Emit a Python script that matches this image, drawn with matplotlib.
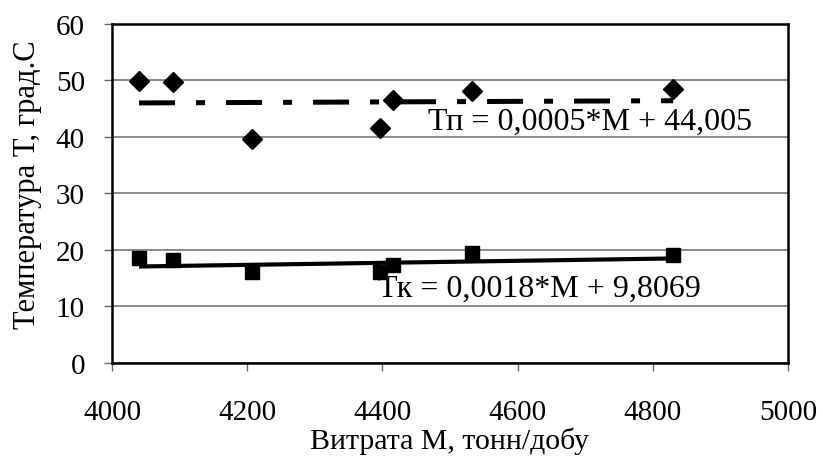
import numpy as np
import matplotlib.pyplot as plt

plt.rcParams["font.family"] = ["Liberation Serif", "DejaVu Serif"]

# Data
flow = [4040, 4090, 4207, 4397, 4415, 4532, 4830]       # M, тонн/добу
t_in = [49.9, 49.8, 39.6, 41.6, 46.6, 48.1, 48.5]       # Тп, diamonds
t_out = [18.6, 18.2, 16.1, 16.1, 17.3, 19.4, 19.2]      # Тк, squares

# trend line coefficients (as written on the chart)
k_in, b_in = 0.0005, 44.005
k_out, b_out = 0.0018, 9.8069

x_ticks = [4000, 4200, 4400, 4600, 4800, 5000]
y_ticks = [0, 10, 20, 30, 40, 50, 60]

fig = plt.figure(figsize=(8.23, 4.60), dpi=100)
ax = fig.add_axes((0.1361, 0.2087, 0.8214, 0.7370))

m = np.array([min(flow), max(flow)])

ax.plot(flow, t_in, linestyle="none", marker="D", markersize=10,
        color="black", zorder=3)
ax.plot(m, k_in * m + b_in, color="black", linewidth=3.6,
        dashes=(7.2, 4.2, 1.8, 4.2), dash_capstyle="butt", zorder=2)

ax.plot(flow, t_out, linestyle="none", marker="s", markersize=9.5,
        color="black", zorder=3)
ax.plot(m, k_out * m + b_out, color="black", linewidth=3.0,
        solid_capstyle="butt", zorder=2)

ax.text(4468, 42.8, "Тп = 0,0005*М + 44,005", fontsize=23,
        va="center", ha="left")
ax.text(4394, 13.2, "Тк = 0,0018*М + 9,8069", fontsize=23,
        va="center", ha="left")

ax.set_xlim(4000, 5000)
ax.set_ylim(0, 60)
ax.set_xticks(x_ticks)
ax.set_yticks(y_ticks)
ax.tick_params(labelsize=21, direction="out", length=6, width=1,
               color="#666666")
ax.tick_params(axis="x", pad=20)
ax.tick_params(axis="y", pad=13.5)
ax.yaxis.grid(True, color="#777777", linewidth=1.2)
ax.set_axisbelow(True)
for s in ax.spines.values():
    s.set_linewidth(1.8)
    s.set_color("black")

ax.set_xlabel("Витрата М, тонн/добу", fontsize=21.5, labelpad=1)
ax.set_ylabel("Температура Т, град.С", fontsize=22)
ax.yaxis.set_label_coords(-0.104, 0.53)

fig.savefig("out.png", dpi=100)
